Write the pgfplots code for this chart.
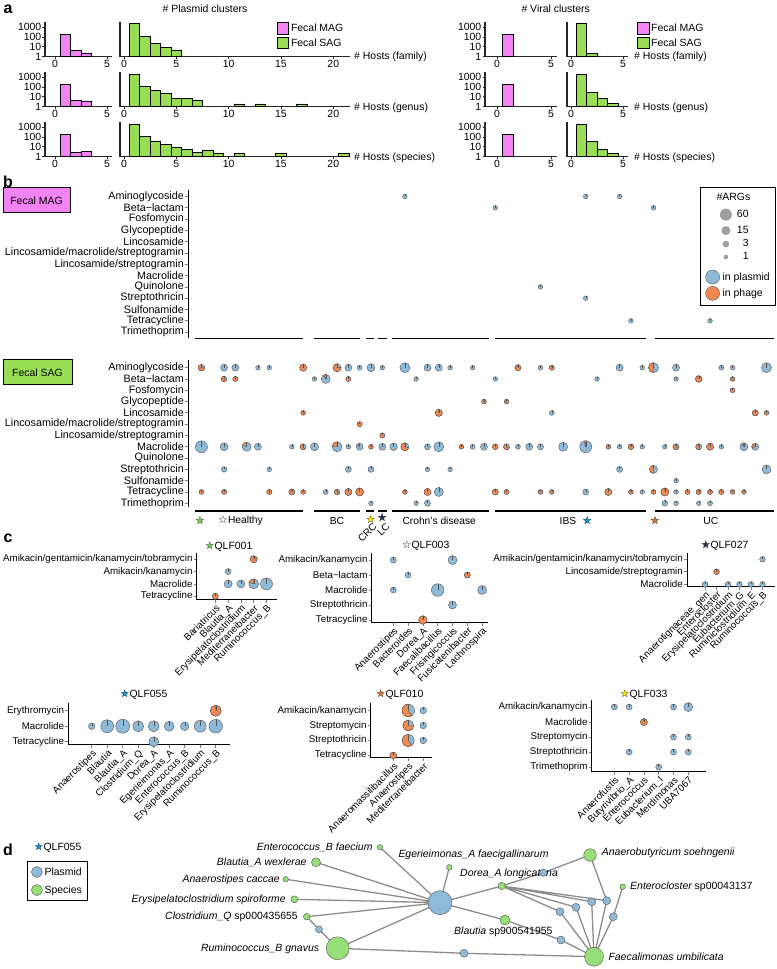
\documentclass[border=0pt]{standalone}
\usepackage{pgfplots}
\usepackage{pgfplotstable}
\pgfplotsset{compat=1.18}
\usepackage{fontspec}
\setmainfont{Liberation Sans}
\newfontfamily\symfont{DejaVu Sans}

\definecolor{magMAG}{RGB}{242,131,242}
\definecolor{grSAG}{RGB}{153,221,85}
\definecolor{pblue}{RGB}{142,186,217}
\definecolor{porange}{RGB}{242,137,80}
\definecolor{pedge}{RGB}{85,85,85}
\definecolor{netgreen}{RGB}{150,222,120}
\definecolor{egrey}{RGB}{140,140,140}
\definecolor{stgreen}{RGB}{120,210,90}
\definecolor{styellow}{RGB}{255,240,0}
\definecolor{stnavy}{RGB}{40,55,85}
\definecolor{stblue}{RGB}{20,150,220}
\definecolor{storange}{RGB}{235,120,50}

\newcommand\fs[1]{\fontsize{#1}{#1}\selectfont}
\newcommand\ostar[1]{{\symfont\makebox[0pt][l]{\color{#1}★}☆}}

% pie mark: blue disc, orange wedge (fraction \pief) counter-clockwise from the top
\pgfdeclareplotmark{argpie}{%
  \pgfmathsetmacro\pieend{90+360*\pief}%
  \pgfsetfillcolor{pblue}%
  \pgfpathcircle{\pgfpointorigin}{\pgfplotmarksize}%
  \pgfusepath{fill,stroke}%
  \ifdim\pief pt>0.001pt
    \pgfsetfillcolor{porange}%
    \pgfpathmoveto{\pgfpointorigin}%
    \pgfpathlineto{\pgfpoint{0pt}{\pgfplotmarksize}}%
    \pgfpatharc{90}{\pieend}{\pgfplotmarksize}%
    \pgfpathclose
    \pgfusepath{fill,stroke}%
  \fi
  \pgfpathmoveto{\pgfpointorigin}%
  \pgfpathlineto{\pgfpoint{0pt}{\pgfplotmarksize}}%
  \pgfusepath{stroke}%
}

\pgfplotsset{
  /pgf/number format/assume math mode=true,
  every axis/.append style={scale only axis, font=\fs{10.5}},
  hgram/.style={ymin=1, ymax=3700, height=35bp,
    axis x line*=bottom, axis y line*=left, tick align=outside,
    major tick length=2.5bp, minor tick length=0pt,
    axis line style={line width=1.1bp, black!85},
    major tick style={line width=0.8bp, black!85},
    tick label style={font=\fs{10.5}},
    xticklabel style={inner sep=1bp}, yticklabel style={inner sep=1bp}},
  histlab/.style={ytick={1,10,100,1000}, yticklabels={1,10,100,1000}},
  histno/.style={ytick=\empty},
  barM/.style={ybar, bar width=10.4bp, fill=magMAG, draw=black, line width=0.6bp, forget plot},
  barS/.style={ybar, bar width=10.4bp, fill=grSAG, draw=black, line width=0.6bp, forget plot},
  pies/.style={scatter, only marks, mark=argpie, forget plot,
    scatter/use mapped color={draw=pedge},
    point meta=\thisrow{r},
    visualization depends on={\thisrow{r}\as\pier},
    visualization depends on={\thisrow{f}\as\pief},
    scatter/@pre marker code/.append style={/tikz/mark size=\pier bp},
    line width=0.4bp},
  nodesz/.style={scatter, only marks, mark=*, forget plot,
    scatter/use mapped color={draw=pedge, fill=#1},
    point meta=\thisrow{r},
    visualization depends on={\thisrow{r}\as\pier},
    scatter/@pre marker code/.append style={/tikz/mark size=\pier bp},
    line width=0.4bp},
  dotb/.style={axis y line*=left, axis x line=none, tick align=outside,
    major tick length=3bp, axis line style={line width=1bp},
    major tick style={line width=0.8bp},
    ytick={-12,...,0},
    yticklabels={Trimethoprim,Tetracycline,Sulfonamide,Streptothricin,Quinolone,Macrolide,Lincosamide/streptogramin,Lincosamide/macrolide/streptogramin,Lincosamide,Glycopeptide,Fosfomycin,Beta−lactam,Aminoglycoside},
    yticklabel style={font=\fs{10.8}, inner sep=1bp},
    xmin=-1.19, xmax=50.75, width=587bp, clip=false},
  dotc/.style={axis x line*=bottom, axis y line*=left, tick align=outside,
    major tick length=3bp, axis line style={line width=1bp},
    major tick style={line width=0.8bp},
    tick label style={font=\fs{9.8}}, yticklabel style={inner sep=1bp},
    xticklabel style={rotate=45, anchor=north east, inner sep=0.5bp}, clip=false},
  grouplines/.style={black, line width=1.2bp, unbounded coords=jump, forget plot},
}

\pgfplotstableread{
x y r f
0 0 3.3 0.8
2 0 3.5 0
3 0 3.5 0
5 0 2.3 0
6 0 2.3 0
9 0 3.5 1
12 0 4 0.75
13 0 3.5 0
14 0 2.5 0
15 0 4 0
16 0 2.3 0
18 0 5 0
20 0 3.5 0
21 0 3.5 0
22 0 2.3 0
24 0 2.3 0
28 0 3 1
30 0 2.3 0
31 0 2.5 1
37 0 3.5 0
39 0 2.3 0
40 0 5 0.5
42 0 3.5 0
46 0 2.5 0
47 0 2.3 0
50 0 5 0
2 -1 2.8 0.7
3 -1 2.5 1
10 -1 2.3 0
11 -1 4.5 0.1
13 -1 2.5 1
19 -1 2.3 0
26 -1 2.3 0
35 -1 2.3 0
42 -1 2.3 0
44 -1 3.3 1
47 -1 2.3 1
47 -2 2.3 1
25 -3 2.3 1
27 -3 2.3 1
9 -4 2.3 1
21 -4 3.5 1
31 -4 2.5 0
49 -4 3 1
50 -4 2.3 1
14 -5 2.5 1
16 -6 2.5 1
0 -7 6 0
2 -7 4 0
4 -7 4.5 0.2
5 -7 3.5 0
8 -7 2.3 0
9 -7 3 0.6
10 -7 4 0
12 -7 5 0.25
13 -7 2.3 0
14 -7 3.5 0.15
15 -7 2.3 1
16 -7 3.5 0
17 -7 3.8 0
18 -7 4 0.7
20 -7 3 0
21 -7 5 0
23 -7 2.3 1
24 -7 2.5 0
25 -7 3.5 0
26 -7 2.8 1
27 -7 3 0.7
28 -7 2.5 0
29 -7 3.5 0
30 -7 3 0
32 -7 4.5 0
34 -7 6 0.05
36 -7 2.3 1
37 -7 2.3 0
38 -7 2.8 0.9
39 -7 2.3 0
41 -7 2.3 0
42 -7 3 0.7
44 -7 3 0.6
45 -7 3.5 1
46 -7 2.3 0
48 -7 4 0.1
49 -7 3.5 0.3
2 -9 2.8 0
6 -9 2.3 0
13 -9 3 0
15 -9 3 0
20 -9 2.3 0
22 -9 2.3 0
37 -9 3 0
40 -9 4 0.5
50 -9 4.5 0
42 -10 2.3 0
0 -11 2.3 1
2 -11 2.5 1
6 -11 2.5 1
8 -11 3 1
9 -11 2.3 1
11 -11 2.5 0
12 -11 2.8 0.7
13 -11 3.5 1
14 -11 4 1
18 -11 2.3 1
20 -11 3.5 1
21 -11 4.5 0
26 -11 3 1
27 -11 2.5 1
30 -11 2.3 1
31 -11 2.3 1
34 -11 3 0
36 -11 3.5 1
38 -11 2.3 1
39 -11 2.3 0
40 -11 2.3 1
41 -11 4 1
42 -11 2.3 0
43 -11 2.5 1
44 -11 2.5 1
45 -11 2.5 1
46 -11 2.5 1
47 -11 2.3 1
48 -11 2.3 1
15 -12 2.3 0
19 -12 2.3 0
20 -12 3 0
41 -12 2.8 0
42 -12 2.3 0
44 -12 2.3 0
45 -12 2.5 0
}\sagdots

\pgfplotstableread{
x y r f
18 0 2.3 0
34 0 2.3 0
37 0 2.3 0
26 -1 2.3 0
40 -1 2.3 0
30 -8 2.3 0
34 -9 2.3 0
38 -11 2.3 0
45 -11 2.3 0
}\magdots

\pgfplotstableread{
x y r
380 -847.3 2.8
316 -862.3 4.5
285.7 -879.3 2.8
294.3 -899.3 3.5
306.7 -916.7 3.3
337.7 -948.3 11.5
449.3 -867.3 2.8
501.7 -886 3.7
590 -855 6.3
622.7 -886.7 2.8
505 -920 5
594 -956.7 9.5
}\netspecies

\pgfplotstableread{
x y r
319 -929.3 3.5
440 -902.7 12
543.3 -872.7 3.7
591.7 -901.7 4
606.7 -900.7 4
576 -907.3 4
560 -911.7 4
613.3 -916.7 4
561 -940 4
464 -953.3 4
}\netplasmid

\begin{document}
\begin{tikzpicture}
\useasboundingbox (0,0) rectangle (777bp,969bp);

% ---------- canvas in pixel coordinates: labels and network ----------
\begin{axis}[at={(0bp,0bp)}, anchor=south west, width=777bp, height=969bp,
  xmin=0, xmax=777, ymin=-969, ymax=0, hide axis, clip=false,
  legend style={at={(26.7/777,1-861/969)}, anchor=north west, draw=black,
    line width=1bp, font=\fs{10.5}, row sep=5bp, inner xsep=4bp, inner ysep=4bp},
  legend cell align=left]
  % panel letters
  \node[font=\bfseries\fs{16}] at (axis cs:8,-9) {a};
  \node[font=\bfseries\fs{16}] at (axis cs:8,-182) {b};
  \node[font=\bfseries\fs{16}] at (axis cs:8,-538) {c};
  \node[font=\bfseries\fs{16}] at (axis cs:8,-850) {d};
  % panel a text
  \node at (axis cs:205,-8.3) {\# Plasmid clusters};
  \node at (axis cs:555.7,-8.3) {\# Viral clusters};
  \node[anchor=west, inner sep=0] at (axis cs:354,-57) {\# Hosts (family)};
  \node[anchor=west, inner sep=0] at (axis cs:354,-107.5) {\# Hosts (genus)};
  \node[anchor=west, inner sep=0] at (axis cs:354,-158) {\# Hosts (species)};
  \node[anchor=west, inner sep=0] at (axis cs:634,-57) {\# Hosts (family)};
  \node[anchor=west, inner sep=0] at (axis cs:634,-107.5) {\# Hosts (genus)};
  \node[anchor=west, inner sep=0] at (axis cs:634,-158) {\# Hosts (species)};
  % panel b boxes and group labels
  \node[draw=black, line width=1bp, fill=magMAG, minimum width=67bp, minimum height=25bp, inner sep=0]
    at (axis cs:36.5,-200.5) {Fecal MAG};
  \node[draw=black, line width=1bp, fill=grSAG, minimum width=69bp, minimum height=25bp, inner sep=0]
    at (axis cs:37.5,-372.5) {Fecal SAG};
  \node[font=\fs{11}, inner sep=0] at (axis cs:200,-520.7) {\ostar{stgreen}};
  \node[anchor=west, font=\fs{10.3}, inner sep=0] at (axis cs:218,-520.7) {{\symfont\fs{11}☆}Healthy};
  \node[font=\fs{10.3}] at (axis cs:337,-520.7) {BC};
  \node[font=\fs{11}, inner sep=0] at (axis cs:370.7,-519.3) {\ostar{styellow}};
  \node[font=\fs{11}, inner sep=0] at (axis cs:382.3,-518) {\ostar{stnavy}};
  \node[rotate=45, anchor=east, font=\fs{10}, inner sep=0] at (axis cs:375,-525) {CRC};
  \node[rotate=45, anchor=east, font=\fs{10}, inner sep=0] at (axis cs:388,-525) {LC};
  \node[font=\fs{10.3}] at (axis cs:439.2,-520.7) {Crohn's disease};
  \node[font=\fs{10.3}] at (axis cs:568,-520.7) {IBS};
  \node[font=\fs{11}, inner sep=0] at (axis cs:587.3,-520.7) {\ostar{stblue}};
  \node[font=\fs{11}, inner sep=0] at (axis cs:655,-520.7) {\ostar{storange}};
  \node[font=\fs{10.3}] at (axis cs:710.8,-520.7) {UC};
  % panel c titles
  \node[anchor=west, inner sep=0] at (axis cs:205,-547) {\ostar{stgreen}QLF001};
  \node[anchor=west, inner sep=0] at (axis cs:402,-546) {{\symfont☆}QLF003};
  \node[anchor=west, inner sep=0] at (axis cs:701,-546) {\ostar{stnavy}QLF027};
  \node[anchor=west, inner sep=0] at (axis cs:120,-695) {\ostar{stblue}QLF055};
  \node[anchor=west, inner sep=0] at (axis cs:376,-695) {\ostar{storange}QLF010};
  \node[anchor=west, inner sep=0] at (axis cs:620,-695) {\ostar{styellow}QLF033};
  \node[anchor=west, inner sep=0] at (axis cs:34,-848) {\ostar{stblue}QLF055};
  % panel d network
  \addplot[egrey, line width=1.3bp, unbounded coords=jump, forget plot] coordinates {
    (440,-902.7)(380,-847.3) (nan,nan)
    (440,-902.7)(316,-862.3) (nan,nan)
    (440,-902.7)(285.7,-879.3) (nan,nan)
    (440,-902.7)(294.3,-899.3) (nan,nan)
    (440,-902.7)(306.7,-916.7) (nan,nan)
    (440,-902.7)(337.7,-948.3) (nan,nan)
    (440,-902.7)(449.3,-867.3) (nan,nan)
    (440,-902.7)(501.7,-886) (nan,nan)
    (440,-902.7)(505,-920) (nan,nan)
    (306.7,-916.7)(319,-929.3)(337.7,-948.3) (nan,nan)
    (337.7,-948.3)(464,-953.3)(594,-956.7) (nan,nan)
    (501.7,-886)(543.3,-872.7)(590,-855) (nan,nan)
    (590,-855)(606.7,-900.7)(594,-956.7) (nan,nan)
    (622.7,-886.7)(613.3,-916.7)(594,-956.7) (nan,nan)
    (501.7,-886)(591.7,-901.7)(594,-956.7) (nan,nan)
    (501.7,-886)(576,-907.3)(594,-956.7) (nan,nan)
    (501.7,-886)(560,-911.7)(594,-956.7) (nan,nan)
    (501.7,-886)(606.7,-900.7) (nan,nan)
    (505,-920)(561,-940)(594,-956.7)
  };
  \addplot[nodesz=pblue] table[x=x,y=y] {\netplasmid};
  \addplot[nodesz=netgreen] table[x=x,y=y] {\netspecies};
  \begin{scope}[every node/.style={font=\fs{10.5}\itshape, inner sep=0}]
    \node[anchor=east] at (axis cs:372.7,-847.3) {Enterococcus\_B faecium};
    \node[anchor=east] at (axis cs:306.7,-862.3) {Blautia\_A wexlerae};
    \node[anchor=east] at (axis cs:280,-879.3) {Anaerostipes caccae};
    \node[anchor=east] at (axis cs:286,-899.3) {Erysipelatoclostridium spiroforme};
    \node[anchor=east] at (axis cs:298,-916.7) {Clostridium\_Q \upshape sp000435655};
    \node[anchor=east] at (axis cs:319.3,-948.3) {Ruminococcus\_B gnavus};
    \node[anchor=west] at (axis cs:398.3,-855) {Egerieimonas\_A faecigallinarum};
    \node[anchor=west] at (axis cs:460,-873.3) {Dorea\_A longicatena};
    \node[anchor=west] at (axis cs:601.7,-853) {Anaerobutyricum soehngenii};
    \node[anchor=west] at (axis cs:630,-886.7) {Enterocloster \upshape sp00043137};
    \node[anchor=west] at (axis cs:454,-931.7) {Blautia \upshape sp900541955};
    \node[anchor=west] at (axis cs:608.3,-957) {Faecalimonas umbilicata};
  \end{scope}
  \addlegendimage{legend image code/.code={\filldraw[fill=pblue, draw=pedge, line width=0.4bp] (5.5bp,0bp) circle (5.5bp);}}
  \addlegendentry{Plasmid}
  \addlegendimage{legend image code/.code={\filldraw[fill=netgreen, draw=pedge, line width=0.4bp] (5.5bp,0bp) circle (5.5bp);}}
  \addlegendentry{Species}
\end{axis}

% ---------- panel a: histograms ----------
% plasmid, MAG
\begin{axis}[ymode=log, hgram, histlab, at={(45bp,912.3bp)}, anchor=south west, width=67bp, xmin=-0.96, xmax=5.48, xtick={0,5}]
  \addplot[barM] coordinates {(1,200) (2,5) (3,2.4)};
\end{axis}
\begin{axis}[ymode=log, hgram, histlab, at={(45bp,862.3bp)}, anchor=south west, width=67bp, xmin=-0.96, xmax=5.48, xtick={0,5}]
  \addplot[barM] coordinates {(1,200) (2,4.8) (3,3.8)};
\end{axis}
\begin{axis}[ymode=log, hgram, histlab, at={(45bp,812.3bp)}, anchor=south west, width=67bp, xmin=-0.96, xmax=5.48, xtick={0,5}]
  \addplot[barM] coordinates {(1,190) (2,3) (3,3.8)};
\end{axis}
% plasmid, SAG
\begin{axis}[ymode=log, hgram, histno, at={(120bp,912.3bp)}, anchor=south west, width=230bp, xmin=-0.38, xmax=21.6, xtick={0,5,10,15,20},
  legend style={at={(0.681,1.0)}, anchor=north west, draw=none, fill=none, font=\fs{10.5}, row sep=1.5bp, inner sep=0pt},
  legend cell align=left]
  \addplot[barS] coordinates {(1,2500) (2,110) (3,23) (4,9) (5,5)};
  \addlegendimage{legend image code/.code={\filldraw[fill=magMAG, draw=black, line width=0.6bp] (0bp,-5.8bp) rectangle (11.6bp,5.8bp);}}
  \addlegendentry{Fecal MAG}
  \addlegendimage{legend image code/.code={\filldraw[fill=grSAG, draw=black, line width=0.6bp] (0bp,-5.8bp) rectangle (11.6bp,5.8bp);}}
  \addlegendentry{Fecal SAG}
\end{axis}
\begin{axis}[ymode=log, hgram, histno, at={(120bp,862.3bp)}, anchor=south west, width=230bp, xmin=-0.38, xmax=21.6, xtick={0,5,10,15,20}]
  \addplot[barS] coordinates {(1,2150) (2,110) (3,50) (4,23) (5,6.6) (6,6.6) (7,5) (11,1.9) (13,1.9) (17,1.9)};
\end{axis}
\begin{axis}[ymode=log, hgram, histno, at={(120bp,812.3bp)}, anchor=south west, width=230bp, xmin=-0.38, xmax=21.6, xtick={0,5,10,15,20}]
  \addplot[barS] coordinates {(1,2000) (2,110) (3,40) (4,18) (5,8.3) (6,5.7) (7,2.8) (8,4.1) (9,2) (11,2) (15,2) (21,2)};
\end{axis}
% viral, MAG
\begin{axis}[ymode=log, hgram, histlab, at={(485bp,912.3bp)}, anchor=south west, width=72bp, xmin=-1.11, xmax=5.56, xtick={0,5}]
  \addplot[barM] coordinates {(1,200)};
\end{axis}
\begin{axis}[ymode=log, hgram, histlab, at={(485bp,862.3bp)}, anchor=south west, width=72bp, xmin=-1.11, xmax=5.56, xtick={0,5}]
  \addplot[barM] coordinates {(1,200)};
\end{axis}
\begin{axis}[ymode=log, hgram, histlab, at={(485bp,812.3bp)}, anchor=south west, width=72bp, xmin=-1.11, xmax=5.56, xtick={0,5}]
  \addplot[barM] coordinates {(1,200)};
\end{axis}
% viral, SAG
\begin{axis}[ymode=log, hgram, histno, at={(567bp,912.3bp)}, anchor=south west, width=61bp, xmin=-0.38, xmax=5.48, xtick={0,5},
  legend style={at={(1.143,1.0)}, anchor=north west, draw=none, fill=none, font=\fs{10.5}, row sep=1.5bp, inner sep=0pt},
  legend cell align=left]
  \addplot[barS] coordinates {(1,2500) (2,2)};
  \addlegendimage{legend image code/.code={\filldraw[fill=magMAG, draw=black, line width=0.6bp] (0bp,-5.8bp) rectangle (11.6bp,5.8bp);}}
  \addlegendentry{Fecal MAG}
  \addlegendimage{legend image code/.code={\filldraw[fill=grSAG, draw=black, line width=0.6bp] (0bp,-5.8bp) rectangle (11.6bp,5.8bp);}}
  \addlegendentry{Fecal SAG}
\end{axis}
\begin{axis}[ymode=log, hgram, histno, at={(567bp,862.3bp)}, anchor=south west, width=61bp, xmin=-0.38, xmax=5.48, xtick={0,5}]
  \addplot[barS] coordinates {(1,2150) (2,30) (3,6.5) (4,2)};
\end{axis}
\begin{axis}[ymode=log, hgram, histno, at={(567bp,812.3bp)}, anchor=south west, width=61bp, xmin=-0.38, xmax=5.48, xtick={0,5}]
  \addplot[barS] coordinates {(1,2100) (2,34) (3,6) (4,2.2)};
\end{axis}

% ---------- panel b: ARG dot charts ----------
\begin{axis}[dotb, at={(188bp,631bp)}, anchor=south west, height=148bp, ymin=-12.52, ymax=0.575,
  legend style={at={(1.002,1.0185)}, anchor=north east, draw=black, line width=1bp,
    font=\fs{10.5}, row sep=0bp, inner xsep=4bp, inner ysep=3bp},
  legend cell align=left]
  \addplot[pies] table[x=x,y=y] {\magdots};
  \addplot[grouplines] coordinates {(-0.58,-12.55)(8.98,-12.55) (nan,nan) (9.96,-12.55)(14.0,-12.55) (nan,nan)
    (14.6,-12.55)(15.3,-12.55) (nan,nan) (15.6,-12.55)(16.4,-12.55) (nan,nan) (16.9,-12.55)(25.4,-12.55) (nan,nan)
    (26.0,-12.55)(39.3,-12.55) (nan,nan) (40.1,-12.55)(50.7,-12.55)};
  \addlegendimage{legend image code/.code={\path[draw=none, fill=none] (-8bp,-10bp) rectangle (8bp,4bp);}}
  \addlegendentry{\hspace*{-6bp}\#ARGs}
  \addlegendimage{legend image code/.code={\path[draw=none, fill=none] (-8bp,-8.9bp) rectangle (8bp,7.5bp); \fill[gray!75, draw=none, overlay] (13.3bp,0bp) circle (6bp);}}
  \addlegendentry{\makebox[26bp][r]{60}}
  \addlegendimage{legend image code/.code={\path[draw=none, fill=none] (-8bp,-7bp) rectangle (8bp,7bp); \fill[gray!75, draw=none, overlay] (13.3bp,0bp) circle (4.5bp);}}
  \addlegendentry{\makebox[26bp][r]{15}}
  \addlegendimage{legend image code/.code={\path[draw=none, fill=none] (-8bp,-6.5bp) rectangle (8bp,6.5bp); \fill[gray!75, draw=none, overlay] (13.3bp,0bp) circle (3.3bp);}}
  \addlegendentry{\makebox[26bp][r]{3}}
  \addlegendimage{legend image code/.code={\path[draw=none, fill=none] (-8bp,-11bp) rectangle (8bp,6.5bp); \fill[gray!75, draw=none, overlay] (13.3bp,0bp) circle (2.3bp);}}
  \addlegendentry{\makebox[26bp][r]{1}}
  \addlegendimage{legend image code/.code={\path[draw=none, fill=none] (-8bp,-7.3bp) rectangle (8bp,9bp); \filldraw[fill=pblue, draw=pedge, line width=0.4bp] (0bp,0bp) circle (7bp);}}
  \addlegendentry{in plasmid}
  \addlegendimage{legend image code/.code={\path[draw=none, fill=none] (-8bp,-9bp) rectangle (8bp,9bp); \filldraw[fill=porange, draw=pedge, line width=0.4bp] (0bp,0bp) circle (7bp);}}
  \addlegendentry{in phage}
\end{axis}
\begin{axis}[dotb, at={(188bp,462bp)}, anchor=south west, height=147bp, ymin=-12.33, ymax=0.68]
  \addplot[pies] table[x=x,y=y] {\sagdots};
  \addplot[grouplines] coordinates {(-0.58,-12.68)(8.98,-12.68) (nan,nan) (9.96,-12.68)(14.0,-12.68) (nan,nan)
    (14.6,-12.68)(15.3,-12.68) (nan,nan) (15.6,-12.68)(16.4,-12.68) (nan,nan) (16.9,-12.68)(25.4,-12.68) (nan,nan)
    (26.0,-12.68)(39.3,-12.68) (nan,nan) (40.1,-12.68)(50.7,-12.68)};
\end{axis}

% ---------- panel c: per-sample dot charts ----------
% QLF001
\begin{axis}[dotc, at={(196.7bp,369bp)}, anchor=south west, width=80bp, height=47bp,
  xmin=-1.46, xmax=4.8, ymin=-3.3, ymax=0.5,
  xtick={0,...,4}, xticklabels={Bariatricus,Blautia\_A,Erysipelatoclostridium,Mediterraneibacter,Ruminococcus\_B},
  ytick={-3,...,0}, yticklabels={Tetracycline,Macrolide,Amikacin/kanamycin,Amikacin/gentamicin/kanamycin/tobramycin}]
  \addplot[pies] table[row sep=\\] {x y r f\\ 3 0 3.5 0.85\\ 1 -1 3 0\\ 1 -2 4 0\\ 2 -2 4 0\\ 3 -2 5 0.2\\ 4 -2 6 0\\ 0 -3 3 1\\};
\end{axis}
% QLF003
\begin{axis}[dotc, at={(371.7bp,346.3bp)}, anchor=south west, width=116.3bp, height=69.7bp,
  xmin=-1.46, xmax=6.4, ymin=-4.18, ymax=0.47,
  xtick={0,...,6}, xticklabels={Anaerostipes,Bacteroides,Dorea\_A,Faecalibacillus,Frisingicoccus,Fusicatenibacter,Lachnospira},
  ytick={-4,...,0}, yticklabels={Tetracycline,Streptothricin,Macrolide,Beta−lactam,Amikacin/kanamycin}]
  \addplot[pies] table[row sep=\\] {x y r f\\ 0 0 3 0\\ 4 0 4.5 0\\ 1 -1 3 0\\ 5 -1 3 1\\ 0 -2 3 0\\ 3 -2 6.3 0\\ 6 -2 4.5 0\\ 4 -3 4 0\\ 2 -4 4.2 1\\};
\end{axis}
% QLF027
\begin{axis}[dotc, at={(687bp,382.3bp)}, anchor=south west, width=88bp, height=33.7bp,
  xmin=-1.57, xmax=6.09, ymin=-2.19, ymax=0.5,
  xtick={0,...,5}, xticklabels={Anaerotignaceae\_gen,Enterocloster,Erysipelatoclostridium,Eubacterium\_G,Ruminiclostridium\_E,Ruminococcus\_B},
  ytick={-2,...,0}, yticklabels={Macrolide,Lincosamide/streptogramin,Amikacin/gentamicin/kanamycin/tobramycin}]
  \addplot[pies] table[row sep=\\] {x y r f\\ 5 0 2.8 0\\ 1 -1 2.8 1\\ 0 -2 2.8 0\\ 2 -2 2.8 0\\ 3 -2 2.8 0\\ 4 -2 2.8 0\\ 5 -2 2.8 0\\};
\end{axis}
% QLF055
\begin{axis}[dotc, at={(68.3bp,224bp)}, anchor=south west, width=161.7bp, height=42bp,
  xmin=-1.51, xmax=8.92, ymin=-2.21, ymax=0.5,
  xtick={0,...,8}, xticklabels={Anaerostipes,Blautia,Blautia\_A,Clostridium\_Q,Dorea\_A,Egerieimonas\_A,Enterococcus\_B,Erysipelatoclostridium,Ruminococcus\_B},
  ytick={-2,...,0}, yticklabels={Tetracycline,Macrolide,Erythromycin}]
  \addplot[pies] table[row sep=\\] {x y r f\\ 8 0 5.5 1\\ 0 -1 3.3 0\\ 1 -1 6.5 0\\ 2 -1 7 0\\ 3 -1 5.5 0\\ 4 -1 5.5 0\\ 5 -1 5 0\\ 6 -1 4.3 0\\ 7 -1 6 0\\ 8 -1 6.8 0\\ 4 -2 5 0\\};
\end{axis}
% QLF010
\begin{axis}[dotc, at={(370.7bp,211bp)}, anchor=south west, width=61bp, height=55bp,
  xmin=-1.5, xmax=2.56, ymin=-3.17, ymax=0.5,
  xtick={0,...,2}, xticklabels={Anaeromassilibacillus,Anaerostipes,Mediterraneibacter},
  ytick={-3,...,0}, yticklabels={Tetracycline,Streptothricin,Streptomycin,Amikacin/kanamycin}]
  \addplot[pies] table[row sep=\\] {x y r f\\ 1 0 6.3 0.6\\ 2 0 3.3 0\\ 1 -1 5.5 0.75\\ 2 -1 3.3 0\\ 1 -2 6 0.6\\ 2 -2 3.3 0\\ 0 -3 3.3 1\\};
\end{axis}
% QLF033
\begin{axis}[dotc, at={(591.7bp,197bp)}, anchor=south west, width=114.3bp, height=72bp,
  xmin=-1.53, xmax=6.2, ymin=-4.33, ymax=0.47,
  xtick={0,...,5}, xticklabels={Anaerofustis,Butyrivibrio\_A,Enterococcus,Eubacterium\_I,Merdimonas,UBA7067},
  ytick={-4,...,0}, yticklabels={Trimethoprim,Streptothricin,Streptomycin,Macrolide,Amikacin/kanamycin}]
  \addplot[pies] table[row sep=\\] {x y r f\\ 0 0 3 0\\ 1 0 3 0\\ 4 0 3 0\\ 5 0 4.5 0\\ 2 -1 3.5 1\\ 4 -2 3 0\\ 5 -2 3 0\\ 1 -3 3 0\\ 4 -3 3 0\\ 5 -3 3 0\\ 3 -4 3 0\\};
\end{axis}
\end{tikzpicture}
\end{document}
